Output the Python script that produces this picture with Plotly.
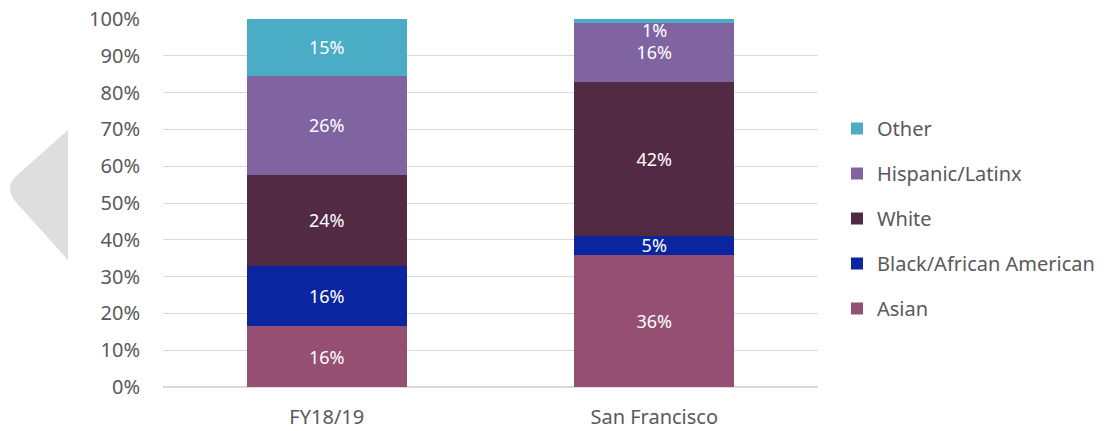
import plotly.graph_objects as go

# Data
categories = ["FY18/19", "San Francisco"]
groups = ["Asian", "Black/African American", "White", "Hispanic/Latinx", "Other"]
asian = [16, 36]
black = [16, 5]
white = [24, 42]
hispanic = [26, 16]
other = [15, 1]
colors = ["#954F72", "#0B249F", "#522A44", "#8064A2", "#4BACC6"]

series = [asian, black, white, hispanic, other]

W, H = 1109, 431
L, R, T, B = 163, 291, 19, 44
pw, ph = W - L - R, H - T - B


def px(x, y):
    # page pixels -> paper coords
    return (x - L) / pw, (H - B - y) / ph


fig = go.Figure()
for i, (name, vals, col) in enumerate(zip(groups, series, colors)):
    texts = [f"{v}%" for v in vals]
    if name == "Other":
        texts = [texts[0], ""]  # small SF slice labelled with annotation below
    fig.add_trace(go.Bar(
        x=categories, y=vals, name=name,
        marker=dict(color=col, line=dict(width=0)),
        text=texts, textposition="inside", insidetextanchor="middle",
        textangle=0, constraintext="none",
        textfont=dict(color="white", size=18, family="Noto Sans"),
        legendgroup=name, legendrank=len(groups) - i, hoverinfo="skip",
    ))

# label for the thin "Other" slice in San Francisco
fig.add_annotation(x=categories[1], y=100, yref="y", text=f"{other[1]}%",
                   showarrow=False, yanchor="middle", yshift=-11,
                   font=dict(color="white", size=18, family="Noto Sans"))

# grey decorative arrow on the left edge
pts = [px(68, 130), px(14, 178), px(6, 188), px(14, 200), px(68, 260)]
path = (f"M {pts[0][0]},{pts[0][1]} L {pts[1][0]},{pts[1][1]} "
        f"Q {pts[2][0]},{pts[2][1]} {pts[3][0]},{pts[3][1]} "
        f"L {pts[4][0]},{pts[4][1]} Z")
fig.add_shape(type="path", path=path, xref="paper", yref="paper",
              fillcolor="#DEDEDE", line=dict(width=0), layer="below")

lx, ly = px(837, 109)
fig.update_layout(
    width=W, height=H,
    barmode="stack", barnorm="percent", bargap=0.51,
    margin=dict(l=L, r=R, t=T, b=B, autoexpand=False),
    paper_bgcolor="white", plot_bgcolor="white",
    font=dict(family="Noto Sans", color="#595959", size=20),
    legend=dict(traceorder="grouped", x=lx, xanchor="left", y=ly,
                yanchor="top", font=dict(size=20, color="#595959"),
                tracegroupgap=16, itemwidth=30),
    showlegend=True,
)
fig.update_yaxes(range=[0, 100], dtick=10, ticksuffix="%", gridcolor="#D9D9D9",
                 gridwidth=1, zeroline=True, zerolinecolor="#D9D9D9", showline=False,
                 ticklabelstandoff=22, tickfont=dict(size=20),
                 ticklabeloverflow="allow")
fig.update_xaxes(showline=False, ticks="", tickfont=dict(size=20),
                 ticklabelstandoff=16)

fig.write_html("out.html", config={"displayModeBar": False},
               post_script="document.body.style.margin='0';")
